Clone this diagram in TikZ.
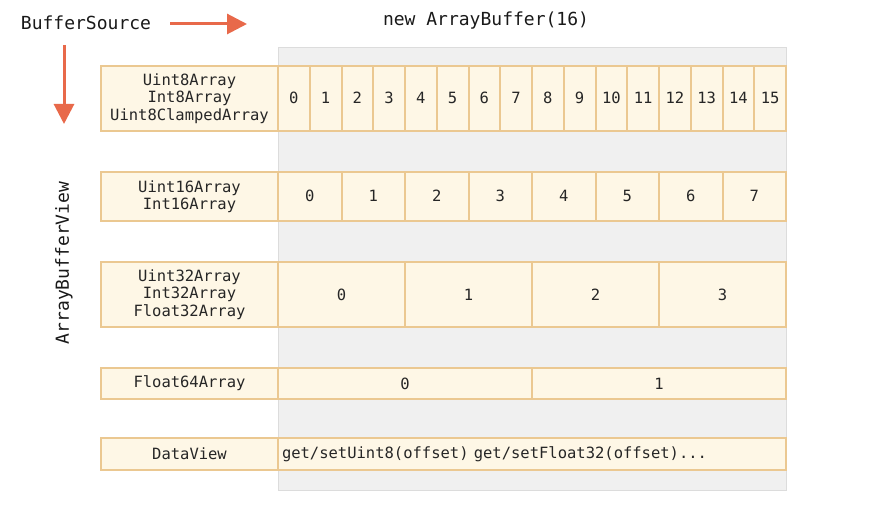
\documentclass[tikz,border=0pt]{standalone}
\usepackage{fontspec}
\newfontfamily\monofnt{DejaVu Sans Mono}
\usetikzlibrary{arrows.meta}
\definecolor{cellfill}{HTML}{FEF7E6}
\definecolor{celldraw}{HTML}{EBC891}
\definecolor{bggrey}{HTML}{F0F0F0}
\definecolor{bgline}{HTML}{DCDCDC}
\definecolor{arrowred}{HTML}{E8694A}
\tikzset{
  cellbase/.style={draw=celldraw, fill=cellfill, line width=2bp, inner sep=0pt, outer sep=0pt, anchor=north west,
    font=\monofnt\fontsize{15.5bp}{17.5bp}\selectfont, text=black!85},
  cell/.style={cellbase, align=center},
  numcell/.style={cellbase, text height=11bp, text depth=0bp},
  big/.style={font=\monofnt\fontsize{18bp}{21bp}\selectfont, text=black!90, inner sep=0pt},
  bigarrow/.style={draw=arrowred, line width=3bp, -{Triangle[length=20bp,width=20bp]}},
}
\begin{document}
\begin{tikzpicture}[x=1bp,y=-1bp]
\useasboundingbox (0,0) rectangle (892,525);
% background
\node[draw=bgline, fill=bggrey, line width=1bp, inner sep=0pt, anchor=north west,
  minimum width=508bp, minimum height=443bp] (bg) at (278,47) {};
% titles
\node[big] (bsrc) at (86,23) {BufferSource};
\node[big] (newab) at (486,21) {new ArrayBuffer(16)};
\node[big, rotate=90] (abv) at (64,263) {ArrayBufferView};
\coordinate (h1) at (170,24);
\coordinate (h2) at (247,24);
\coordinate (v1) at (64,45);
\coordinate (v2) at (64,124);
\draw[bigarrow] (h1) -- (h2);
\draw[bigarrow] (v1) -- (v2);
% row 1
\node[cell, minimum width=177bp, minimum height=65bp] (l1) at (101,66) {Uint8Array\\Int8Array\\Uint8ClampedArray};
\foreach \i in {0,...,15} {
  \node[numcell, minimum width=31.75bp, minimum height=65bp] (r1c\i) at ({278+\i*31.75},66) {\i};
}
% row 2
\node[cell, minimum width=177bp, minimum height=49bp] (l2) at (101,172) {Uint16Array\\Int16Array};
\foreach \i in {0,...,7} {
  \node[numcell, minimum width=63.5bp, minimum height=49bp] (r2c\i) at ({278+\i*63.5},172) {\i};
}
% row 3
\node[cell, minimum width=177bp, minimum height=65bp] (l3) at (101,262) {Uint32Array\\Int32Array\\Float32Array};
\foreach \i in {0,...,3} {
  \node[numcell, minimum width=127bp, minimum height=65bp] (r3c\i) at ({278+\i*127},262) {\i};
}
% row 4
\node[cell, minimum width=177bp, minimum height=31bp] (l4) at (101,368) {Float64Array};
\foreach \i in {0,1} {
  \node[numcell, minimum width=254bp, minimum height=31bp] (r4c\i) at ({278+\i*254},368) {\i};
}
% row 5
\node[cell, minimum width=177bp, minimum height=32bp] (l5) at (101,438) {DataView};
\node[cell, minimum width=508bp, minimum height=32bp, text width=500bp, align=left] (r5) at (278,438) {get/setUint8(offset) get/setFloat32(offset)...};
\end{tikzpicture}
\end{document}
